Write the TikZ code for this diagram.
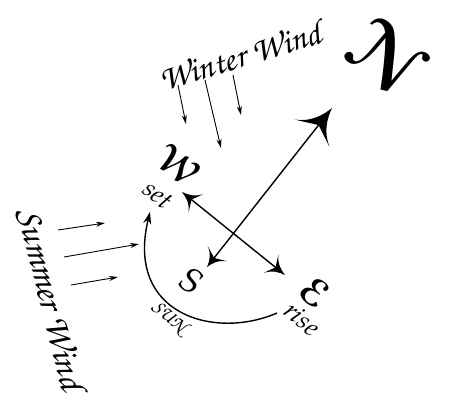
\documentclass[tikz,border=0pt]{standalone}
\usepackage{fontspec}
\usepackage{eucal}
\newfontfamily\chorus{texgyrechorus-mediumitalic.otf}
\newfontfamily\pagella{texgyrepagella-regular.otf}
\newfontfamily\pagellait{texgyrepagella-italic.otf}
\usetikzlibrary{arrows.meta}
\pgfdeclarearrow{
  name = Compass,
  parameters = {\the\pgfarrowlength,\the\pgfarrowwidth},
  defaults = {length=18pt, width=24pt},
  setup code = {
    \pgfarrowssettipend{0pt}
    \pgfarrowssetlineend{-.5\pgfarrowlength}
    \pgfarrowssetbackend{-\pgfarrowlength}
    \pgfarrowssetvisualbackend{-\pgfarrowlength}
    \pgfarrowshullpoint{0pt}{0pt}
    \pgfarrowsupperhullpoint{-\pgfarrowlength}{.5\pgfarrowwidth}
    \pgfarrowssavethe\pgfarrowlength
    \pgfarrowssavethe\pgfarrowwidth
  },
  drawing code = {
    \pgfpathmoveto{\pgfqpoint{0pt}{0pt}}
    \pgfpathcurveto{\pgfqpoint{-.35\pgfarrowlength}{.06\pgfarrowwidth}}{\pgfqpoint{-.75\pgfarrowlength}{.18\pgfarrowwidth}}{\pgfqpoint{-\pgfarrowlength}{.5\pgfarrowwidth}}
    \pgfpathcurveto{\pgfqpoint{-.85\pgfarrowlength}{.25\pgfarrowwidth}}{\pgfqpoint{-.72\pgfarrowlength}{.08\pgfarrowwidth}}{\pgfqpoint{-.68\pgfarrowlength}{0pt}}
    \pgfpathcurveto{\pgfqpoint{-.72\pgfarrowlength}{-.08\pgfarrowwidth}}{\pgfqpoint{-.85\pgfarrowlength}{-.25\pgfarrowwidth}}{\pgfqpoint{-\pgfarrowlength}{-.5\pgfarrowwidth}}
    \pgfpathcurveto{\pgfqpoint{-.75\pgfarrowlength}{-.18\pgfarrowwidth}}{\pgfqpoint{-.35\pgfarrowlength}{-.06\pgfarrowwidth}}{\pgfqpoint{0pt}{0pt}}
    \pgfpathclose
    \pgfusepathqfill
  }
}
\tikzset{
  lbl/.style={inner sep=0pt, outer sep=0pt},
  script/.style={lbl, font=\fontsize{24.88}{28}\selectfont\boldmath},
  wind/.style={line width=0.9pt, -{Stealth[length=9pt,width=5pt]}},
  compassline/.style={line width=1.4pt},
  sunarc/.style={line width=1.4pt, -{Stealth[length=12pt,width=8pt]}}
}
\begin{document}
\begin{tikzpicture}[x=1pt,y=-1pt]
\useasboundingbox (0,0) rectangle (449,402);
% labels
\node[lbl, rotate=17, font=\chorus\fontsize{35}{40}\selectfont] (winter) at (240,56) {Winter Wind};
\node[lbl, rotate=-76, font=\chorus\fontsize{37}{42}\selectfont] (summer) at (51,299) {Summer Wind};
\node[script, rotate=-40, scale=3.2] (north) at (386,56) {$\mathcal{N}$};
\node[script, rotate=-39, scale=1.55] (west) at (178,166) {$\mathcal{W}$};
\node[lbl, rotate=-38, font=\pagellait\fontsize{26}{30}\selectfont] (set) at (158,195) {set};
\node[lbl, rotate=-39, font=\pagella\fontsize{34}{38}\selectfont] (south) at (192,281) {S};
\node[script, rotate=-39, scale=1.55] (east) at (315,292) {$\mathcal{E}$};
\node[lbl, rotate=-40, font=\pagellait\fontsize{26}{30}\selectfont] (rise) at (302,319) {rise};
\node[lbl, rotate=-40, font=\chorus\fontsize{20}{24}\selectfont] (sun) at (169,317) {SUN};
% compass arrows
\coordinate (nTip) at (332,108);
\coordinate (sTip) at (207,267);
\coordinate (wTip) at (182,192);
\coordinate (eTip) at (285,275);
\draw[compassline, {Compass[length=17pt,width=25pt]}-{Compass[length=32pt,width=44pt]}] (sTip) -- (nTip);
\draw[compassline, {Compass[length=18pt,width=24pt]}-{Compass[length=18pt,width=24pt]}] (wTip) -- (eTip);
% sun arc
\coordinate (sunA) at (277,313);
\coordinate (sunB) at (150,212);
\draw[sunarc] (sunA) .. controls (215,340) and (125,315) .. (sunB);
% winter wind arrows
\coordinate (ww1s) at (178,85);  \coordinate (ww1e) at (186,124);
\coordinate (ww2s) at (205,80);  \coordinate (ww2e) at (221,148);
\coordinate (ww3s) at (233,75);  \coordinate (ww3e) at (241,115);
\draw[wind] (ww1s) -- (ww1e);
\draw[wind] (ww2s) -- (ww2e);
\draw[wind] (ww3s) -- (ww3e);
% summer wind arrows
\coordinate (sw1s) at (58,230);  \coordinate (sw1e) at (105,223);
\coordinate (sw2s) at (64,257);  \coordinate (sw2e) at (139,244);
\coordinate (sw3s) at (71,285);  \coordinate (sw3e) at (118,277);
\draw[wind] (sw1s) -- (sw1e);
\draw[wind] (sw2s) -- (sw2e);
\draw[wind] (sw3s) -- (sw3e);
\end{tikzpicture}
\end{document}
